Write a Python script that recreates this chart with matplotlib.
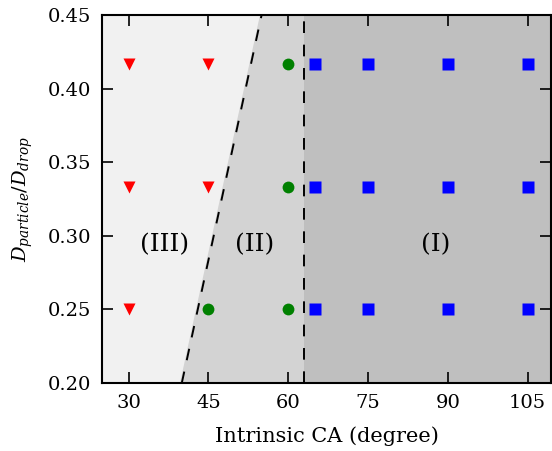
import matplotlib
matplotlib.use("Agg")
import matplotlib.pyplot as plt

# wetting regimes: contact angle (deg) vs particle/drop size ratio
ratio = [0.25, 1 / 3, 5 / 12]

regime3_ca = [30, 45, 30, 45, 30]
regime3_ratio = [5 / 12, 5 / 12, 1 / 3, 1 / 3, 0.25]

regime2_ca = [60, 60, 45, 60]
regime2_ratio = [5 / 12, 1 / 3, 0.25, 0.25]

regime1_ca = [65, 75, 90, 105]

# boundaries between regimes
bound_32_ca = [40, 55]
bound_32_ratio = [0.20, 0.45]
bound_21_ca = 63

xticks = [30, 45, 60, 75, 90, 105]
yticks = [0.20, 0.25, 0.30, 0.35, 0.40, 0.45]
xlim = (25, 109.4)
ylim = (0.20, 0.45)

plt.rcParams["font.family"] = "DejaVu Serif"
plt.rcParams["mathtext.fontset"] = "dejavuserif"

fig = plt.figure(figsize=(5.52, 4.51), dpi=100)
ax = fig.add_axes([102 / 552, 1 - 383 / 451, (551 - 102) / 552, (383 - 15) / 451])

# shaded regions
ax.fill([xlim[0], bound_32_ca[0], bound_32_ca[1], xlim[0]],
        [ylim[0], ylim[0], ylim[1], ylim[1]], color="#f1f1f1", lw=0, zorder=0)
ax.fill([bound_32_ca[0] - 0.3, bound_21_ca, bound_21_ca, bound_32_ca[1] - 0.3],
        [ylim[0], ylim[0], ylim[1], ylim[1]], color="#d3d3d3", lw=0, zorder=0)
ax.axvspan(bound_21_ca, xlim[1], color="#bfbfbf", lw=0, zorder=0)

ax.plot(bound_32_ca, bound_32_ratio, color="black", ls=(0, (6, 6)), lw=1.4, zorder=1)
ax.axvline(bound_21_ca, color="black", ls=(0, (6, 6)), lw=1.4, zorder=1)

ax.plot(regime3_ca, regime3_ratio, "v", color="red", ms=9, mec="none", zorder=3)
ax.plot(regime2_ca, regime2_ratio, "o", color="green", ms=8.5, mec="none", zorder=3)
for r in ratio:
    ax.plot(regime1_ca, [r] * len(regime1_ca), "s", color="blue", ms=8, mec="none", zorder=3)

ax.text(36.8, 0.294, "(III)", fontsize=18, ha="center", va="center")
ax.text(53.7, 0.294, "(II)", fontsize=18, ha="center", va="center")
ax.text(87.7, 0.294, "(I)", fontsize=18, ha="center", va="center")

ax.set_xlim(xlim)
ax.set_ylim(ylim)
ax.set_xticks(xticks)
ax.set_yticks(yticks)
ax.set_yticklabels([f"{v:.2f}" for v in yticks])
ax.tick_params(direction="in", top=True, right=True, length=8, width=1.2,
               labelsize=14, pad=8)
for s in ax.spines.values():
    s.set_linewidth(1.5)

ax.set_xlabel("Intrinsic CA (degree)", fontsize=15, labelpad=10)
ax.set_ylabel(r"$D_{particle}/D_{drop}$", fontsize=14, labelpad=9)

fig.savefig("out.png", dpi=100)
